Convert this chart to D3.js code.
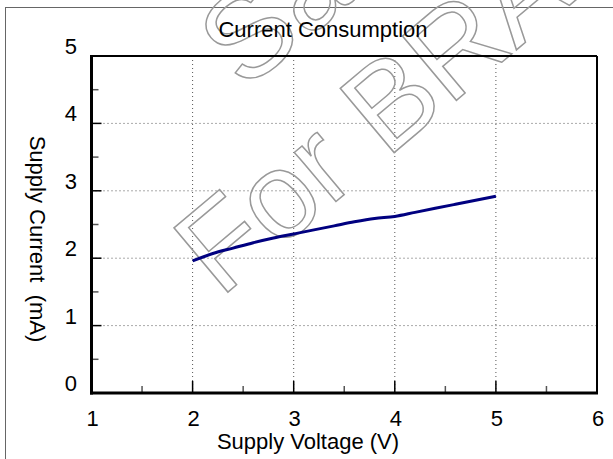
<!DOCTYPE html>
<html lang="en">
<head>
    <meta charset="UTF-8">
    <title>Current Consumption</title>
    <script src="https://cdnjs.cloudflare.com/ajax/libs/d3/7.8.5/d3.min.js"></script>
    <style>
        body {
            margin: 0;
            background: #fff;
            font-family: "Liberation Sans", Arial, sans-serif;
        }
        svg text {
            white-space: pre;
        }
    </style>
</head>
<body>
    <div id="chart"></div>
    <script>
        // Data
        const voltage = [2.0, 2.2, 2.4, 2.6, 2.8, 3.0, 3.2, 3.4, 3.6, 3.8, 4.0, 4.2, 4.4, 4.6, 4.8, 5.0];
        const current = [1.96, 2.07, 2.15, 2.23, 2.30, 2.36, 2.42, 2.48, 2.54, 2.59, 2.62, 2.68, 2.74, 2.80, 2.86, 2.92];
        const xTicks = [1, 2, 3, 4, 5, 6];
        const yTicks = [0, 1, 2, 3, 4, 5];
        const xMinor = [1.5, 2.5, 3.5, 4.5, 5.5];
        const yMinor = [0.5, 1.5, 2.5, 3.5, 4.5];

        const width = 613;
        const height = 459;
        const svg = d3.select("#chart")
            .append("svg")
            .attr("width", width)
            .attr("height", height);

        const x = d3.scaleLinear().domain([1, 6]).range([91.5, 597]);
        const y = d3.scaleLinear().domain([0, 5]).range([393, 56]);

        // outer border
        svg.append("rect")
            .attr("x", 5.5).attr("y", 7.5)
            .attr("width", 640).attr("height", 480)
            .attr("fill", "none")
            .attr("stroke", "#666")
            .attr("stroke-width", 1);

        // dotted grid
        svg.append("g")
            .selectAll("line")
            .data(xTicks.slice(1, -1))
            .enter().append("line")
            .attr("x1", d => x(d)).attr("x2", d => x(d))
            .attr("y1", y(5)).attr("y2", y(0))
            .attr("stroke", "#555")
            .attr("stroke-dasharray", "1,3");
        svg.append("g")
            .selectAll("line")
            .data(yTicks.slice(1, -1))
            .enter().append("line")
            .attr("y1", d => y(d)).attr("y2", d => y(d))
            .attr("x1", x(1)).attr("x2", x(6))
            .attr("stroke", "#555")
            .attr("stroke-dasharray", "1,3");

        // watermark
        const wm = svg.append("g")
            .attr("transform", "translate(228,292) rotate(-40)")
            .attr("font-size", 122)
            .attr("fill", "none")
            .attr("stroke", "#999")
            .attr("stroke-width", 1.5);
        wm.append("text").attr("x", 141).attr("y", -143).text("Sample");
        wm.append("text").attr("x", -10).attr("y", 0).text("For BRAND");

        // ticks: major black, minor grey, inside the frame
        svg.append("g")
            .selectAll("line")
            .data(yTicks.slice(1, -1))
            .enter().append("line")
            .attr("x1", x(1)).attr("x2", x(1) + 10)
            .attr("y1", d => y(d)).attr("y2", d => y(d))
            .attr("stroke", "#000").attr("stroke-width", 1.5);
        svg.append("g")
            .selectAll("line")
            .data(yMinor)
            .enter().append("line")
            .attr("x1", x(1)).attr("x2", x(1) + 7)
            .attr("y1", d => y(d)).attr("y2", d => y(d))
            .attr("stroke", "#555").attr("stroke-width", 1.5);
        svg.append("g")
            .selectAll("line")
            .data(xTicks.slice(1, -1))
            .enter().append("line")
            .attr("x1", d => x(d)).attr("x2", d => x(d))
            .attr("y1", y(0)).attr("y2", y(0) - 12)
            .attr("stroke", "#000").attr("stroke-width", 1.5);
        svg.append("g")
            .selectAll("line")
            .data(xMinor)
            .enter().append("line")
            .attr("x1", d => x(d)).attr("x2", d => x(d))
            .attr("y1", y(0)).attr("y2", y(0) - 7)
            .attr("stroke", "#555").attr("stroke-width", 1.5);

        // frame
        svg.append("line")
            .attr("x1", x(1)).attr("x2", x(6)).attr("y1", y(5)).attr("y2", y(5))
            .attr("stroke", "#000").attr("stroke-width", 2);
        svg.append("line")
            .attr("x1", x(6)).attr("x2", x(6)).attr("y1", y(5)).attr("y2", y(0))
            .attr("stroke", "#000").attr("stroke-width", 2);
        svg.append("line")
            .attr("x1", x(1)).attr("x2", x(1)).attr("y1", y(5) - 1).attr("y2", y(0) + 1.5)
            .attr("stroke", "#000").attr("stroke-width", 3);
        svg.append("line")
            .attr("x1", x(1) - 1.5).attr("x2", x(6) + 1).attr("y1", y(0)).attr("y2", y(0))
            .attr("stroke", "#000").attr("stroke-width", 3);

        // data line
        const line = d3.line()
            .x((d, i) => x(voltage[i]))
            .y(d => y(d))
            .curve(d3.curveMonotoneX);
        svg.append("path")
            .datum(current)
            .attr("d", line)
            .attr("fill", "none")
            .attr("stroke", "#000080")
            .attr("stroke-width", 3);

        // tick labels
        svg.append("g")
            .selectAll("text")
            .data(yTicks)
            .enter().append("text")
            .attr("x", 77)
            .attr("y", d => y(d) - 2)
            .attr("text-anchor", "end")
            .attr("font-size", 22)
            .text(d => d);
        svg.append("g")
            .selectAll("text")
            .data(xTicks)
            .enter().append("text")
            .attr("x", d => x(d) + 1)
            .attr("y", 426)
            .attr("text-anchor", "middle")
            .attr("font-size", 22)
            .text(d => d);

        // titles
        svg.append("text")
            .attr("x", 323).attr("y", 37)
            .attr("text-anchor", "middle")
            .attr("font-size", 22)
            .text("Current Consumption");
        svg.append("text")
            .attr("x", 308).attr("y", 449)
            .attr("text-anchor", "middle")
            .attr("font-size", 22)
            .text("Supply Voltage (V)");
        svg.append("text")
            .attr("transform", "translate(30,239) rotate(90)")
            .attr("text-anchor", "middle")
            .attr("font-size", 22)
            .text("Supply Current  (mA)");
    </script>
</body>
</html>
